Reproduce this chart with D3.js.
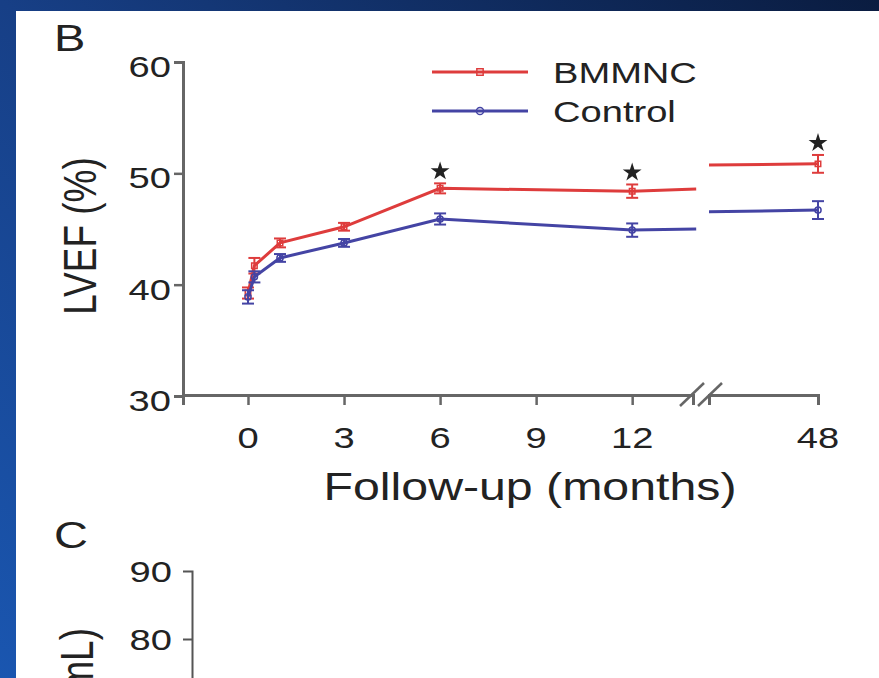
<!DOCTYPE html>
<html>
<head>
<meta charset="utf-8">
<script src="https://cdn.jsdelivr.net/npm/d3@7"></script>
<style>
  body { margin: 0; overflow: hidden; }
  text { font-family: "Liberation Sans", Arial, sans-serif; fill: #222; }
</style>
</head>
<body>
<div id="container"></div>
<script>
/* DATA */
const months = [0, 0.2, 1, 3, 6, 12, 14];
const bmmnc = [39.25, 41.7, 43.75, 45.2, 48.65, 48.4, 48.6];
const bmmncErr = [0.5, 0.7, 0.4, 0.35, 0.45, 0.6, null];
const control = [38.9, 40.7, 42.4, 43.75, 45.9, 44.9, 45.0];
const controlErr = [0.6, 0.5, 0.35, 0.35, 0.5, 0.6, null];

// after the axis break
const lateMonths = [44.6, 48];
const bmmncLate = [50.75, 50.85];
const bmmncLateErr = [null, 0.8];
const controlLate = [46.55, 46.7];
const controlLateErr = [null, 0.8];

const starMonths = [6, 12, 48];
const xTicks = [0, 3, 6, 9, 12];
const xTicksLate = [48];
const yTicks = [30, 40, 50, 60];
const seriesNames = ["BMMNC", "Control"];

/* CONSTANTS */
const width = 879, height = 678;
const red = "#de3c3c", blue = "#4444a4", axisCol = "#666";
const sx = 1.27; // the figure is stretched sideways

const svg = d3.select("#container").append("svg")
  .attr("width", width).attr("height", height);

// blue slide background
const grad = svg.append("defs").append("linearGradient")
  .attr("id", "bg").attr("x1", "0").attr("y1", "1").attr("x2", "1").attr("y2", "0");
grad.append("stop").attr("offset", "0").attr("stop-color", "#1a56b0");
grad.append("stop").attr("offset", "0.5").attr("stop-color", "#173f86");
grad.append("stop").attr("offset", "1").attr("stop-color", "#0a1c40");
svg.append("rect").attr("width", width).attr("height", height).attr("fill", "url(#bg)");
svg.append("rect").attr("x", 16).attr("y", 11).attr("width", width - 16).attr("height", height - 11)
  .attr("fill", "white");

// SCALES
const y = d3.scaleLinear().domain([30, 60]).range([396, 62]);
const xA = d3.scaleLinear().domain([-2.03, 13.9]).range([183, 693]);
const xB = d3.scaleLinear().domain([44.6, 48]).range([709, 818]);

function label(g, x, yy, txt, size, anchor, rot) {
  g.append("g")
    .attr("transform", `translate(${x},${yy}) scale(${sx},1)` + (rot ? ` rotate(${rot})` : ""))
    .append("text")
    .attr("text-anchor", anchor)
    .style("font-size", size + "px")
    .text(txt);
}

// AXES
function styleAxis(g) {
  g.selectAll("path.domain").attr("stroke", axisCol).attr("stroke-width", 3);
  g.selectAll(".tick line").attr("stroke", axisCol).attr("stroke-width", 2.5);
  g.selectAll(".tick text").remove();
}

const yAxis = svg.append("g").attr("transform", "translate(183,0)")
  .call(d3.axisLeft(y).tickValues(yTicks).tickSizeOuter(0).tickSize(9));
styleAxis(yAxis);
yAxis.selectAll(".tick").filter(d => d === 30 || d === 60).select("line").remove();
yTicks.forEach(v => label(svg, 171, y(v) + 15, v, 30, "end"));

const xAxisA = svg.append("g").attr("transform", "translate(0,395)")
  .call(d3.axisBottom(xA).tickValues(xTicks).tickSizeOuter(0).tickSize(10));
styleAxis(xAxisA);
const xAxisB = svg.append("g").attr("transform", "translate(0,395)")
  .call(d3.axisBottom(xB).tickValues(xTicksLate).tickSizeOuter(0).tickSize(10));
styleAxis(xAxisB);
xTicks.forEach(v => label(svg, xA(v), 448, v, 30, "middle"));
xTicksLate.forEach(v => label(svg, xB(v), 448, v, 30, "middle"));

// break marks
[692, 710].forEach(cx => {
  svg.append("line")
    .attr("x1", cx - 12).attr("y1", 406).attr("x2", cx + 12).attr("y2", 383)
    .attr("stroke", axisCol).attr("stroke-width", 2.5);
});

label(svg, 530, 500, "Follow-up (months)", 38, "middle");
label(svg, 96, 236, "LVEF (%)", 37, "middle", -90);
label(svg, 54, 51, "B", 37, "start");

// SERIES
const series = [
  {name: seriesNames[0], color: red, vals: bmmnc, err: bmmncErr, late: bmmncLate, lateErr: bmmncLateErr, sym: d3.symbolSquare},
  {name: seriesNames[1], color: blue, vals: control, err: controlErr, late: controlLate, lateErr: controlLateErr, sym: d3.symbolCircle}
];

const line = d3.line().x(d => d.x).y(d => y(d.v));

series.forEach(s => {
  const early = months.map((m, i) => ({x: xA(m), v: s.vals[i], e: s.err[i]}));
  const late = lateMonths.map((m, i) => ({x: xB(m), v: s.late[i], e: s.lateErr[i]}));
  [early, late].forEach(pts => {
    svg.append("path").datum(pts)
      .attr("fill", "none").attr("stroke", s.color).attr("stroke-width", 3)
      .attr("d", line);
    const bars = svg.append("g").selectAll("g").data(pts.filter(d => d.e != null)).join("g")
      .attr("stroke", s.color).attr("stroke-width", 2);
    bars.append("line")
      .attr("x1", d => d.x).attr("x2", d => d.x)
      .attr("y1", d => y(d.v - d.e)).attr("y2", d => y(d.v + d.e));
    bars.append("line")
      .attr("x1", d => d.x - 6).attr("x2", d => d.x + 6)
      .attr("y1", d => y(d.v + d.e)).attr("y2", d => y(d.v + d.e));
    bars.append("line")
      .attr("x1", d => d.x - 6).attr("x2", d => d.x + 6)
      .attr("y1", d => y(d.v - d.e)).attr("y2", d => y(d.v - d.e));
    bars.append("path")
      .attr("transform", d => `translate(${d.x},${y(d.v)})`)
      .attr("d", d3.symbol().type(s.sym).size(30))
      .attr("fill", "none").attr("stroke-width", 1.5);
  });
});

// significance stars
const star = d3.symbol().type(d3.symbolStar).size(110);
starMonths.forEach(m => {
  let px, top;
  if (m > 14) {
    const i = lateMonths.indexOf(m);
    px = xB(m); top = bmmncLate[i] + bmmncLateErr[i];
  } else {
    const i = months.indexOf(m);
    px = xA(m); top = bmmnc[i] + bmmncErr[i];
  }
  svg.append("path")
    .attr("transform", `translate(${px},${y(top) - 12})`)
    .attr("d", star).attr("fill", "#222");
});

// LEGEND
series.forEach((s, i) => {
  const ly = 72 + i * 39;
  svg.append("line").attr("x1", 432).attr("x2", 528).attr("y1", ly).attr("y2", ly)
    .attr("stroke", s.color).attr("stroke-width", 3);
  svg.append("path").attr("transform", `translate(480,${ly})`)
    .attr("d", d3.symbol().type(s.sym).size(40))
    .attr("fill", "none").attr("stroke", s.color).attr("stroke-width", 1.5);
  label(svg, 553, ly + 11, s.name, 30, "start");
});

// next panel (cut off at the bottom, as in the source)
label(svg, 54, 548, "C", 37, "start");
const yC = d3.scaleLinear().domain([70, 90]).range([707, 571]);
const yAxisC = svg.append("g").attr("transform", "translate(192,0)")
  .call(d3.axisLeft(yC).tickValues([80, 90]).tickSizeOuter(0).tickSize(9));
yAxisC.selectAll("path.domain").attr("stroke", "#555").attr("stroke-width", 2);
yAxisC.selectAll(".tick line").attr("stroke", "#555").attr("stroke-width", 2);
yAxisC.selectAll(".tick").filter(d => d === 90).select("line").remove();
yAxisC.selectAll(".tick text").remove();
[80, 90].forEach(v => label(svg, 172, yC(v) + 11, v, 30, "end"));
label(svg, 93, 628, "(mL)", 37, "end", -90);
</script>
</body>
</html>
